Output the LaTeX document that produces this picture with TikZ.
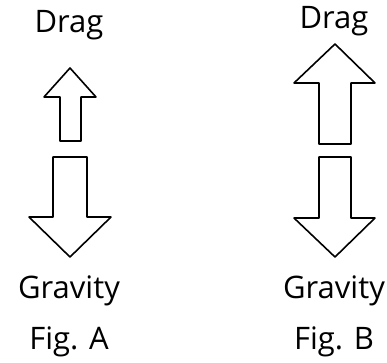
\documentclass[tikz,border=0pt]{standalone}
\usepackage{fontspec}
\setmainfont{Open Sans}

\begin{document}
\begin{tikzpicture}[x=1pt,y=-1pt,
  label/.style={font=\fontsize{31}{36}\selectfont,anchor=base,inner sep=0pt},
  blockarrow/.style={draw,line width=1.6pt,line join=round,fill=white}]
\useasboundingbox (0,0) rectangle (387,362);

% Fig. A
\node[label] (dragA) at (69,32) {Drag};
\draw[blockarrow] (60,141) -- (60,97) -- (44,97) -- (70,68) -- (96,97) -- (81,97) -- (81,141) -- cycle;
\draw[blockarrow] (53,157) -- (53,217) -- (29,217) -- (70,257) -- (111,217) -- (87,217) -- (87,157) -- cycle;
\node[label] (gravA) at (69,298) {Gravity};
\node[label] (figA) at (69,349) {Fig. A};

% Fig. B
\node[label] (dragB) at (334,28) {Drag};
\draw[blockarrow] (319,144) -- (319,83) -- (294,83) -- (335,44) -- (375,83) -- (351,83) -- (351,144) -- cycle;
\draw[blockarrow] (319,157) -- (319,218) -- (294,218) -- (335,257) -- (375,218) -- (351,218) -- (351,157) -- cycle;
\node[label] (gravB) at (334,298) {Gravity};
\node[label] (figB) at (334,349) {Fig. B};
\end{tikzpicture}
\end{document}
